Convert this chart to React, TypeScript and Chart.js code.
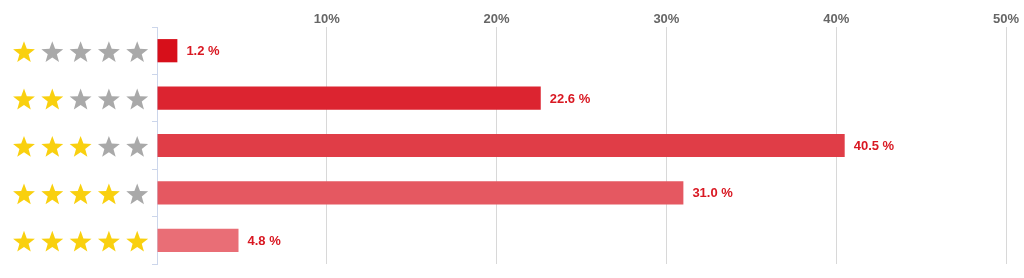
import React, { useEffect, useRef } from "react";
import { Chart, registerables } from "chart.js";

Chart.register(...registerables);

const starCounts = [1, 2, 3, 4, 5];
const categories = ["1 star", "2 stars", "3 stars", "4 stars", "5 stars"];
const percentValues = [1.2, 22.6, 40.5, 31.0, 4.8];
const barColors = ["#d70f1a", "#dc2430", "#e03d47", "#e55861", "#e96e76"];
const tickValues = [0, 10, 20, 30, 40, 50];

const FONT = "'Liberation Sans', Arial, Helvetica, sans-serif";

function drawStar(ctx: CanvasRenderingContext2D, cx: number, cy: number, R: number, r: number, color: string) {
  ctx.beginPath();
  for (let i = 0; i < 10; i++) {
    const rad = i % 2 === 0 ? R : r;
    const a = -Math.PI / 2 + (i * Math.PI) / 5;
    const x = cx + rad * Math.cos(a);
    const y = cy + rad * Math.sin(a);
    if (i === 0) ctx.moveTo(x, y);
    else ctx.lineTo(x, y);
  }
  ctx.closePath();
  ctx.fillStyle = color;
  ctx.fill();
}

const starsPlugin = {
  id: "starsPlugin",
  afterDraw(chart: any) {
    const ctx = chart.ctx as CanvasRenderingContext2D;
    const yScale = chart.scales.y;
    ctx.save();
    starCounts.forEach((count, i) => {
      const cy = yScale.getPixelForValue(i) + 2;
      for (let k = 0; k < 5; k++) {
        const cx = 24 + k * 28.3;
        drawStar(ctx, cx, cy, 11.5, 4.8, k < count ? "#f9d00f" : "#a9a9a9");
      }
    });
    ctx.restore();
  },
};

const labelsPlugin = {
  id: "labelsPlugin",
  afterDatasetsDraw(chart: any) {
    const ctx = chart.ctx as CanvasRenderingContext2D;
    const meta = chart.getDatasetMeta(0);
    ctx.save();
    ctx.font = `bold 13px ${FONT}`;
    ctx.fillStyle = "#d91822";
    ctx.textBaseline = "middle";
    ctx.textAlign = "left";
    meta.data.forEach((bar: any, i: number) => {
      ctx.fillText(`${percentValues[i].toFixed(1)} %`, bar.x + 9, bar.y + 1);
    });
    ctx.restore();
  },
};

export default function App() {
  const canvasRef = useRef<HTMLCanvasElement | null>(null);

  useEffect(() => {
    if (!canvasRef.current) return;
    const chart = new Chart(canvasRef.current, {
      type: "bar",
      data: {
        labels: categories,
        datasets: [
          {
            data: percentValues,
            backgroundColor: barColors,
            borderWidth: 0,
            barPercentage: 0.49,
            categoryPercentage: 1,
          },
        ],
      },
      options: {
        indexAxis: "y",
        animation: false,
        responsive: true,
        maintainAspectRatio: false,
        layout: { padding: { top: 0, right: 18, bottom: 14, left: 0 } },
        plugins: {
          legend: { display: false },
          tooltip: { enabled: false },
        },
        scales: {
          x: {
            type: "linear",
            position: "top",
            min: tickValues[0],
            max: tickValues[tickValues.length - 1],
            afterBuildTicks: (scale: any) => {
              scale.ticks = tickValues.map((v) => ({ value: v }));
            },
            afterFit: (scale: any) => {
              scale.height = 27;
            },
            ticks: {
              padding: 0,
              color: "#666666",
              font: { family: FONT, size: 13, weight: "bold" },
              callback: (v: any) => (Number(v) === 0 ? "" : `${v}%`),
            },
            grid: {
              drawTicks: false,
              color: (c: any) => (c.tick && c.tick.value === 0 ? "rgba(0,0,0,0)" : "#d8d8d8"),
            },
            border: { display: false },
          },
          y: {
            type: "category",
            afterFit: (scale: any) => {
              scale.width = 157;
            },
            ticks: { display: false },
            grid: {
              drawOnChartArea: false,
              drawTicks: true,
              tickLength: 5,
              color: "#ccd6eb",
              offset: true,
            },
            border: { display: true, color: "#ccd6eb" },
          },
        },
      },
      plugins: [starsPlugin, labelsPlugin],
    });
    return () => chart.destroy();
  }, []);

  return (
    <div style={{ position: "absolute", left: 0, top: 0, width: 1024, height: 278, background: "#fff" }}>
      <canvas ref={canvasRef} />
    </div>
  );
}
